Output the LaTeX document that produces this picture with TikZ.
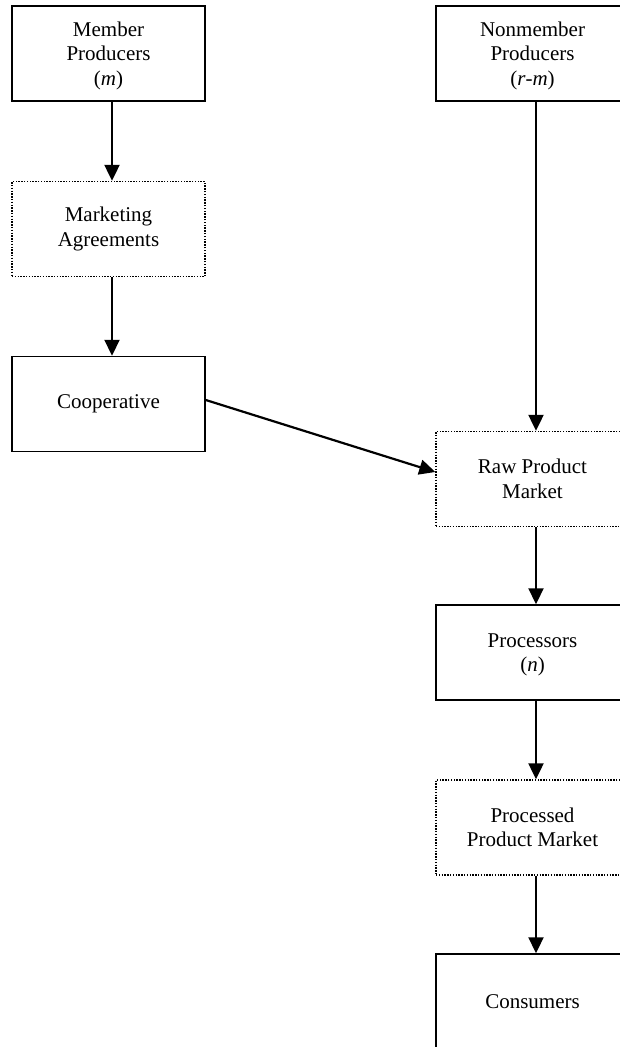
\documentclass[tikz,border=0pt]{standalone}
\usepackage{fontspec}
\setmainfont{Liberation Serif}
\usetikzlibrary{arrows.meta}
\tikzset{
    box/.style={draw, line width=1.5pt, minimum width=193pt, minimum height=95pt,
        inner sep=0pt, align=center, font=\fontsize{21}{24.5}\selectfont},
    dotbox/.style={box, line width=1.4pt, dash pattern=on 1.4pt off 1.4pt},
    flow/.style={line width=2.2pt, -{Triangle[width=15pt,length=16pt]}},
}
\begin{document}
\begin{tikzpicture}[x=1pt,y=-1pt]
\useasboundingbox (0,0) rectangle (619,1047);
% left column
\node[box, text depth=0pt] (member) at (108.5,53.5) {Member\\Producers\\(\textit{m})};
\node[dotbox] (agree) at (108.5,229) {Marketing\\Agreements};
\node[box] (coop) at (108.5,404) {Cooperative};
% right column
\node[box, text depth=0pt] (nonmember) at (532.5,53.5) {Nonmember\\Producers\\(\textit{r}-\textit{m})};
\node[dotbox] (rawmkt) at (532.5,479) {Raw Product\\Market};
\node[box, text depth=0pt] (proc) at (532.5,652.5) {Processors\\(\textit{n})};
\node[dotbox] (procmkt) at (532.5,827.5) {Processed\\Product Market};
\node[box] (cons) at (532.5,1001.5) {Consumers};

\draw[flow] ([xshift=3.5pt]member.south) -- ([xshift=3.5pt]agree.north);
\draw[flow] ([xshift=3.5pt]agree.south) -- ([xshift=3.5pt]coop.north);
\draw[flow] ([yshift=4pt]coop.east) -- ([yshift=7pt]rawmkt.west);
\draw[flow] ([xshift=3.5pt]nonmember.south) -- ([xshift=3.5pt]rawmkt.north);
\draw[flow] ([xshift=3.5pt]rawmkt.south) -- ([xshift=3.5pt]proc.north);
\draw[flow] ([xshift=3.5pt]proc.south) -- ([xshift=3.5pt]procmkt.north);
\draw[flow] ([xshift=3.5pt]procmkt.south) -- ([xshift=3.5pt]cons.north);
\end{tikzpicture}
\end{document}
